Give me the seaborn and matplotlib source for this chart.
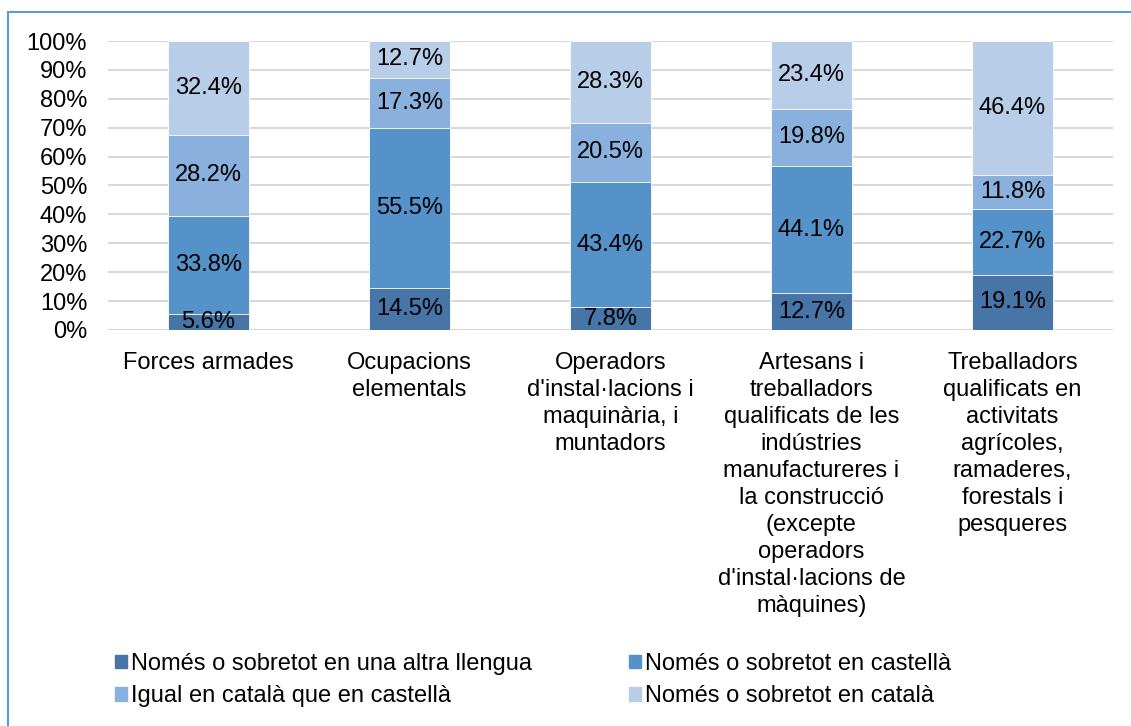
"""Grafic de barres apilades: llengua d'us per ocupacio."""

import matplotlib

matplotlib.use("Agg")
import matplotlib.pyplot as plt
import numpy as np
import pandas as pd
import seaborn as sns
from matplotlib.patches import Rectangle

# dades
categories = [
    "Forces armades",
    "Ocupacions\nelementals",
    "Operadors\nd'instal·lacions i\nmaquinària, i\nmuntadors",
    "Artesans i\ntreballadors\nqualificats de les\nindústries\nmanufactureres i\nla construcció\n(excepte\noperadors\nd'instal·lacions de\nmàquines)",
    "Treballadors\nqualificats en\nactivitats\nagrícoles,\nramaderes,\nforestals i\npesqueres",
]
series = [
    "Només o sobretot en una altra llengua",
    "Només o sobretot en castellà",
    "Igual en català que en castellà",
    "Només o sobretot en català",
]
altra = [5.6, 14.5, 7.8, 12.7, 19.1]
castella = [33.8, 55.5, 43.4, 44.1, 22.7]
igual = [28.2, 17.3, 20.5, 19.8, 11.8]
catala = [32.4, 12.7, 28.3, 23.4, 46.4]
colors = ["#4775A7", "#5592C9", "#8AB1DD", "#B8CDE7"]
yticks = [0, 10, 20, 30, 40, 50, 60, 70, 80, 90, 100]

FS = 17

sns.set_theme(style="white")
plt.rcParams["font.family"] = ["Liberation Sans", "DejaVu Sans"]
plt.rcParams["text.color"] = "black"
plt.rcParams["xtick.color"] = "black"
plt.rcParams["ytick.color"] = "black"

values = np.array([altra, castella, igual, catala])
cum = np.cumsum(values, axis=0)

fig = plt.figure(figsize=(11.31, 7.26), dpi=100)
ax = fig.add_axes([0.0955, 0.5455, 0.8885, 0.398])

# apilat: de dalt a baix, cada serie tapa les anteriors
for i in range(len(series) - 1, -1, -1):
    df = pd.DataFrame({"cat": categories, "val": cum[i]})
    sns.barplot(data=df, x="cat", y="val", color=colors[i], width=0.4,
                edgecolor="white", linewidth=0.6, ax=ax, saturation=1,
                label=series[i])

for i in range(len(series)):
    for j in range(len(categories)):
        mid = cum[i, j] - values[i, j] / 2
        ax.text(j, mid, f"{values[i, j]:.1f}%", ha="center", va="center",
                fontsize=FS, color="black")

ax.set_ylim(0, 100)
ax.set_xlim(-0.5, len(categories) - 0.5)
ax.set_yticks(yticks)
ax.set_yticklabels([f"{t}%" for t in yticks], fontsize=FS)
ax.tick_params(axis="x", labelsize=FS, pad=16, length=0)
ax.tick_params(axis="y", pad=15, length=0)
for lab in ax.get_xticklabels():
    lab.set_linespacing(1.29)
ax.set_xlabel("")
ax.set_ylabel("")
ax.yaxis.grid(True, color="#D9D9D9", linewidth=1.5)
ax.set_axisbelow(True)
for s in ax.spines.values():
    s.set_visible(False)
if ax.get_legend() is not None:
    ax.get_legend().remove()

handles = [Rectangle((0, 0), 1, 1, color=c) for c in colors]
order = [0, 2, 1, 3]
fig.legend([handles[k] for k in order], [series[k] for k in order],
           loc="upper left", bbox_to_anchor=(0.083, 0.13), ncol=2,
           frameon=False, fontsize=FS, handlelength=0.5, handleheight=0.5,
           handletextpad=0.17, columnspacing=4.1, labelspacing=0.45)

fig.add_artist(Rectangle((0.007, -0.05), 1.1, 1.0335, transform=fig.transFigure,
                         fill=False, edgecolor="#5B9BD5", linewidth=1.5))

fig.savefig("out.png", dpi=100)
plt.close(fig)
